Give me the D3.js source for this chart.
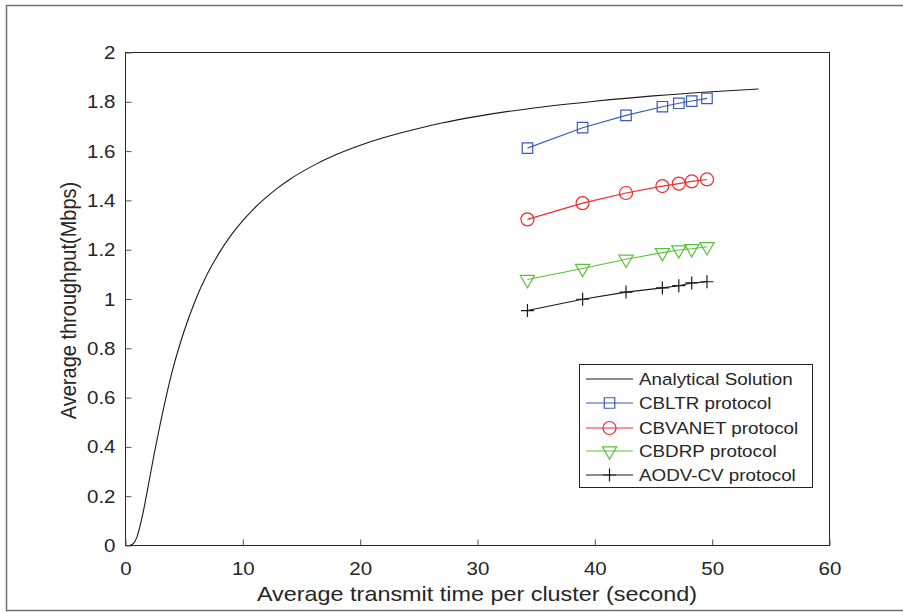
<!DOCTYPE html>
<html>
<head>
<meta charset="utf-8">
<script src="https://cdn.jsdelivr.net/npm/d3@7"></script>
<style>
  html, body { margin: 0; padding: 0; background: #fff; }
  svg { display: block; }
  text { font-family: "Liberation Sans", Arial, Helvetica, sans-serif; fill: #262626; }
</style>
</head>
<body>
<svg id="chart" width="903" height="612"></svg>
<script>
// ---------- data ----------
const xTicks = [0, 10, 20, 30, 40, 50, 60];
const yTicks = [0, 0.2, 0.4, 0.6, 0.8, 1, 1.2, 1.4, 1.6, 1.8, 2];
const yTickLabels = ["0", "0.2", "0.4", "0.6", "0.8", "1", "1.2", "1.4", "1.6", "1.8", "2"];

const analyticX = [0.45, 0.7, 1, 1.5, 2, 2.5, 3, 4, 5, 6, 7, 8, 9, 10, 11, 12, 13, 14, 16, 18, 20, 22, 25, 27, 30, 35, 40, 45, 50, 54];
const analyticY = [0, 0.005, 0.03, 0.122, 0.245, 0.373, 0.49, 0.70, 0.862, 0.993, 1.098, 1.183, 1.254, 1.314, 1.365, 1.409, 1.448, 1.482, 1.538, 1.584, 1.621, 1.652, 1.690, 1.712, 1.739, 1.774, 1.800, 1.822, 1.839, 1.850];

const protocolX = [34.3, 39.0, 42.7, 45.8, 47.2, 48.3, 49.6];
const cbltrY   = [1.610, 1.693, 1.743, 1.778, 1.792, 1.801, 1.812];
const cbvanetY = [1.321, 1.387, 1.428, 1.456, 1.466, 1.475, 1.483];
const cbdrpY   = [1.077, 1.122, 1.159, 1.186, 1.197, 1.202, 1.210];
const aodvY    = [0.951, 0.997, 1.026, 1.043, 1.052, 1.063, 1.068];

const seriesNames = ["Analytical Solution", "CBLTR protocol", "CBVANET protocol", "CBDRP protocol", "AODV-CV protocol"];
const seriesColors = ["#1a1a1a", "#3b5bb5", "#f22a2a", "#5cbf3c", "#1a1a1a"];
const seriesMarkers = ["none", "square", "circle", "triangleDown", "plus"];

const xLabel = "Average transmit time per cluster (second)";
const yLabel = "Average throughput(Mbps)";

// ---------- layout ----------
const SX = 1.14; // horizontal text stretch seen in the reference
const svg = d3.select("#chart");
const plotLeft = 125, plotRight = 829, plotTop = 52, plotBottom = 545;

const x = d3.scaleLinear().domain([0, 60]).range([plotLeft, plotRight]);
const y = d3.scaleLinear().domain([0, 2]).range([plotBottom, plotTop]);

// outer frame
svg.append("path")
  .attr("d", "M 910 5.5 H 6.5 V 610.5 H 910")
  .attr("fill", "none").attr("stroke", "#707070").attr("stroke-width", 1.5);

// axes box
svg.append("rect")
  .attr("x", plotLeft + 0.5).attr("y", plotTop + 0.5)
  .attr("width", plotRight - plotLeft).attr("height", plotBottom - plotTop)
  .attr("fill", "none").attr("stroke", "#262626").attr("stroke-width", 1);

// y axis (ticks inward)
const yAxis = d3.axisLeft(y).tickValues(yTicks)
  .tickFormat((d, i) => yTickLabels[i]).tickSizeInner(-6).tickSizeOuter(0);
const gy = svg.append("g").attr("transform", `translate(${plotLeft + 0.5},0.5)`).call(yAxis);
gy.select(".domain").remove();
gy.selectAll(".tick line").attr("stroke", "#555");
gy.selectAll(".tick text")
  .attr("font-size", 18).attr("fill", "#262626")
  .attr("font-family", '"Liberation Sans", Arial, sans-serif')
  .attr("x", null).attr("dy", null)
  .attr("text-anchor", "end")
  .attr("transform", `translate(-10,6) scale(${SX},1)`);

// x axis (ticks inward)
const xAxis = d3.axisBottom(x).tickValues(xTicks).tickFormat(d3.format("d"))
  .tickSizeInner(-6).tickSizeOuter(0);
const gx = svg.append("g").attr("transform", `translate(0.5,${plotBottom + 0.5})`).call(xAxis);
gx.select(".domain").remove();
gx.selectAll(".tick line").attr("stroke", "#555");
gx.selectAll(".tick text")
  .attr("font-size", 18).attr("fill", "#262626")
  .attr("font-family", '"Liberation Sans", Arial, sans-serif')
  .attr("y", null).attr("dy", null)
  .attr("text-anchor", "middle")
  .attr("transform", `translate(0,29) scale(${SX},1)`);

// axis labels
svg.append("text")
  .attr("transform", `translate(${(plotLeft + plotRight) / 2},601) scale(1.17,1)`)
  .attr("text-anchor", "middle").attr("font-size", 20)
  .text(xLabel);
svg.append("text")
  .attr("transform", `translate(76,${(plotTop + plotBottom) / 2 + 2}) scale(${SX},1) rotate(-90)`)
  .attr("text-anchor", "middle").attr("font-size", 20)
  .text(yLabel);

// ---------- marks ----------
const line = d3.line().x(d => x(d[0])).y(d => y(d[1]));
const lineSmooth = d3.line().x(d => x(d[0])).y(d => y(d[1])).curve(d3.curveMonotoneX);

function markerPath(type) {
  switch (type) {
    case "square": return d3.symbol(d3.symbolSquare, 110)();
    case "circle": return d3.symbol(d3.symbolCircle, 133)();
    case "triangleDown": return d3.symbol(d3.symbolTriangle, 88)();
    case "plus": return "M-6.5,0H6.5M0,-6.5V6.5";
    default: return null;
  }
}
function drawMarker(g, type, color, cx, cy) {
  if (type === "none") return;
  g.append("path")
    .attr("d", markerPath(type))
    .attr("transform", `translate(${cx},${cy})` + (type === "triangleDown" ? " rotate(180)" : ""))
    .attr("fill", "none").attr("stroke", color).attr("stroke-width", 1.2);
}

// analytical curve
svg.append("path")
  .datum(analyticX.map((v, i) => [v, analyticY[i]]))
  .attr("d", lineSmooth)
  .attr("fill", "none").attr("stroke", seriesColors[0]).attr("stroke-width", 1.1);

const protoSeries = [cbltrY, cbvanetY, cbdrpY, aodvY];
protoSeries.forEach((ys, k) => {
  const idx = k + 1;
  const pts = protocolX.map((v, i) => [v, ys[i]]);
  const g = svg.append("g");
  g.append("path").datum(pts).attr("d", line)
    .attr("fill", "none").attr("stroke", seriesColors[idx]).attr("stroke-width", 1.1);
  pts.forEach(p => drawMarker(g, seriesMarkers[idx], seriesColors[idx], x(p[0]), y(p[1])));
});

// ---------- legend ----------
const lg = svg.append("g");
lg.append("rect").attr("x", 579.5).attr("y", 364.5).attr("width", 233).attr("height", 123)
  .attr("fill", "#fff").attr("stroke", "#262626").attr("stroke-width", 1);
const legendY = [379, 403, 428, 451, 475];
seriesNames.forEach((name, i) => {
  const yy = legendY[i];
  lg.append("line").attr("x1", 586).attr("x2", 633).attr("y1", yy).attr("y2", yy)
    .attr("stroke", seriesColors[i]).attr("stroke-width", 1.1);
  drawMarker(lg, seriesMarkers[i], seriesColors[i], 609.5, yy);
  lg.append("text")
    .attr("transform", `translate(639,${yy + 6}) scale(${SX},1)`)
    .attr("font-size", 16.5)
    .text(name);
});
</script>
</body>
</html>
